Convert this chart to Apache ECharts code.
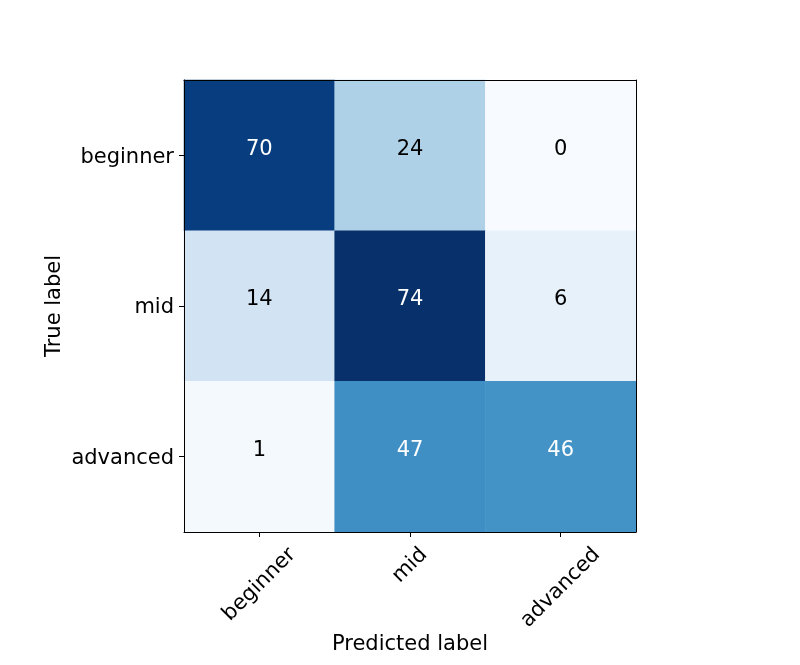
<!DOCTYPE html>
<html><head><meta charset="utf-8">
<script src="https://cdn.jsdelivr.net/npm/echarts@6/dist/echarts.min.js"></script>
<style>html,body{margin:0;padding:0;background:#fff}#c{width:800px;height:665px}</style>
</head><body><div id="c"></div>
<script>
const predictedLabels = ['beginner', 'mid', 'advanced'];
const trueLabels = ['beginner', 'mid', 'advanced'];
const matrix = [
  [70, 24, 0],
  [14, 74, 6],
  [1, 47, 46]
];
const blues = ['#f7fbff','#deebf7','#c6dbef','#9ecae1','#6baed6','#4292c6','#2171b5','#08519c','#08306b'];

let vmax = 0;
matrix.forEach(r => r.forEach(v => { if (v > vmax) vmax = v; }));
const thresh = vmax / 2;
const data = [];
matrix.forEach((row, i) => row.forEach((v, j) => {
  data.push({ value: [j, i, v], label: { color: v > thresh ? '#ffffff' : '#000000' } });
}));

const font = 'DejaVu Sans';
const fs = 21;
// center rotated x labels under ticks like matplotlib (ha=center, rotation=45)
const ctx = document.createElement('canvas').getContext('2d');
ctx.font = fs + 'px "' + font + '"';
const xData = predictedLabels.map(l => {
  const w = ctx.measureText(l).width;
  const p = (w + 24) / 2;
  return { value: l, textStyle: { align: 'center', verticalAlign: 'top', lineHeight: p, padding: [0, p, 0, 0] } };
});
const yData = trueLabels.map(l => ({ value: l, textStyle: { verticalAlign: 'top', lineHeight: 4 } }));

const chart = echarts.init(document.getElementById('c'));
chart.setOption({
  animation: false,
  textStyle: { fontFamily: font },
  grid: { left: 184, top: 80, width: 452, height: 452, containLabel: false, outerBoundsMode: 'none' },
  visualMap: { show: false, min: 0, max: vmax, dimension: 2, inRange: { color: blues } },
  xAxis: [{
    type: 'category', data: xData, position: 'bottom', z: 10,
    name: 'Predicted label', nameLocation: 'middle', nameGap: 102, nameMoveOverlap: false,
    nameTextStyle: { fontSize: fs, color: '#000', fontFamily: font },
    axisLine: { show: true, lineStyle: { color: '#000', width: 1 } },
    axisTick: { show: true, alignWithLabel: true, length: 5, lineStyle: { color: '#000' } },
    axisLabel: { rotate: 45, fontSize: fs, color: '#000', margin: 11, fontFamily: font },
    splitLine: { show: false }
  }, {
    type: 'category', data: predictedLabels, position: 'top', z: 10,
    axisLine: { show: true, lineStyle: { color: '#000', width: 1 } },
    axisTick: { show: false }, axisLabel: { show: false }
  }],
  yAxis: [{
    type: 'category', data: yData, inverse: true, position: 'left', z: 10,
    name: 'True label', nameLocation: 'middle', nameGap: 119, nameRotate: 90, nameMoveOverlap: false,
    nameTextStyle: { fontSize: fs, color: '#000', fontFamily: font },
    axisLine: { show: true, lineStyle: { color: '#000', width: 1 } },
    axisTick: { show: true, alignWithLabel: true, length: 5, lineStyle: { color: '#000' } },
    axisLabel: { fontSize: fs, color: '#000', margin: 10, fontFamily: font },
    splitLine: { show: false }
  }, {
    type: 'category', data: trueLabels, inverse: true, position: 'right', z: 10,
    axisLine: { show: true, lineStyle: { color: '#000', width: 1 } },
    axisTick: { show: false }, axisLabel: { show: false }
  }],
  series: [{
    type: 'heatmap', data: data, xAxisIndex: 0, yAxisIndex: 0,
    label: { show: true, fontSize: fs, fontFamily: font, offset: [0, -6], formatter: p => p.value[2] },
    itemStyle: { borderWidth: 0 }
  }]
});
</script></body></html>
